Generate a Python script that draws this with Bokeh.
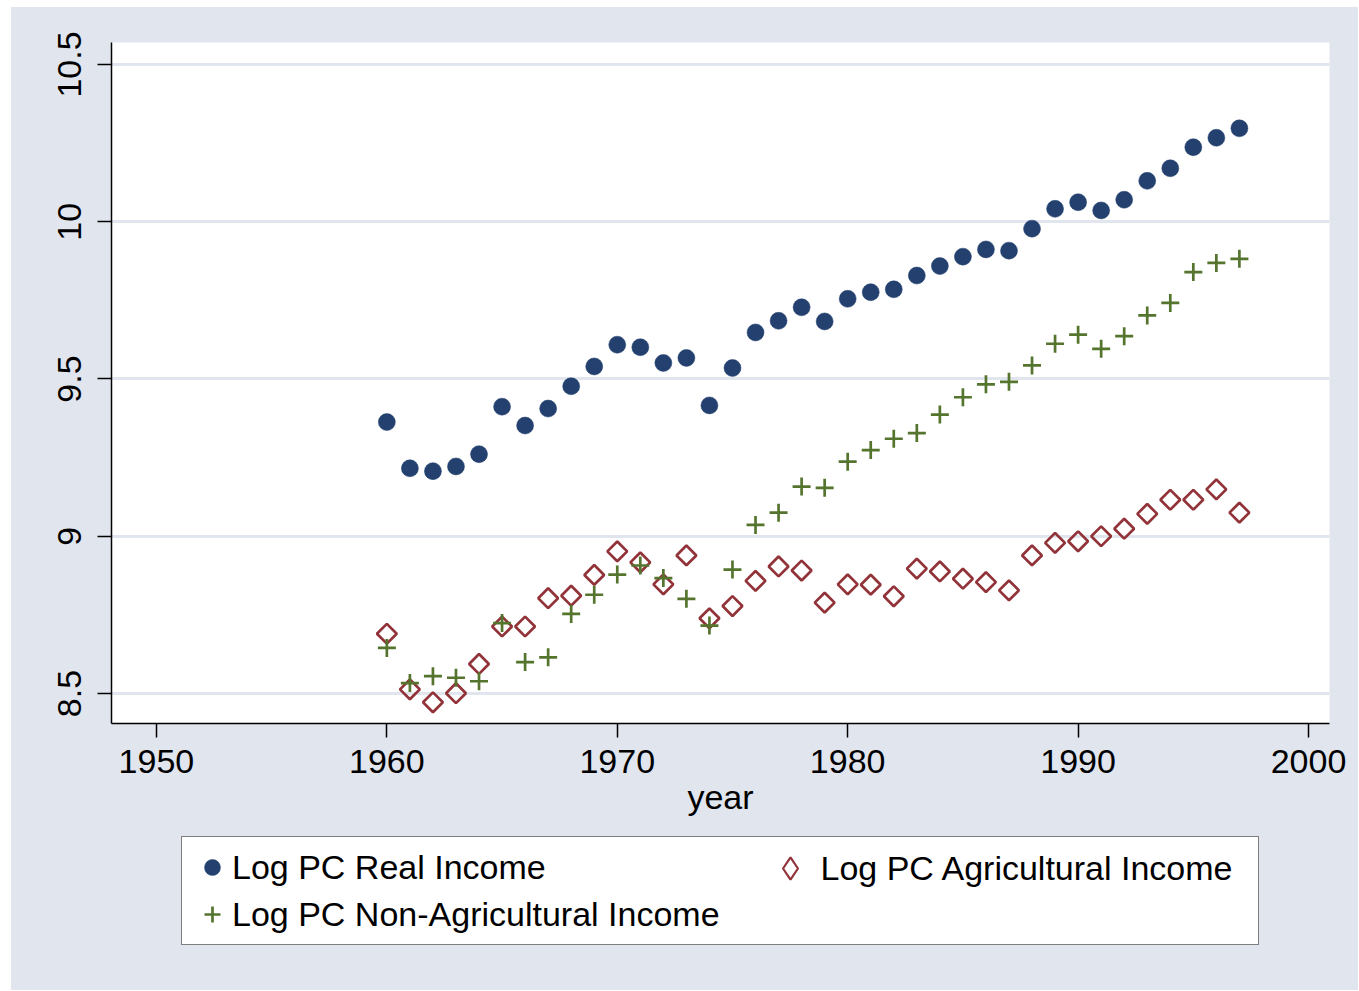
import math
from bokeh.plotting import figure
from bokeh.layouts import column
from bokeh.models import ColumnDataSource, Legend, LegendItem, Range1d, FixedTicker
from bokeh.embed import file_html
from bokeh.resources import INLINE

# ---------------- data ----------------
years = list(range(1960, 1998))
log_real = [9.363, 9.216, 9.207, 9.222, 9.261, 9.412, 9.352, 9.406, 9.477, 9.540,
            9.609, 9.601, 9.551, 9.567, 9.416, 9.535, 9.648, 9.685, 9.728, 9.683,
            9.755, 9.776, 9.785, 9.829, 9.859, 9.889, 9.912, 9.908, 9.978, 10.041,
            10.062, 10.036, 10.070, 10.130, 10.170, 10.237, 10.267, 10.297]
log_ag = [8.690, 8.513, 8.472, 8.501, 8.594, 8.713, 8.713, 8.803, 8.811, 8.877,
          8.952, 8.917, 8.847, 8.939, 8.739, 8.778, 8.858, 8.904, 8.891, 8.789,
          8.847, 8.846, 8.809, 8.897, 8.888, 8.865, 8.854, 8.828, 8.939, 8.979,
          8.984, 9.000, 9.024, 9.071, 9.116, 9.116, 9.149, 9.075]
log_nonag = [8.645, 8.533, 8.555, 8.550, 8.539, 8.724, 8.600, 8.615, 8.753, 8.814,
             8.878, 8.907, 8.867, 8.801, 8.716, 8.894, 9.036, 9.075, 9.158, 9.154,
             9.237, 9.274, 9.310, 9.328, 9.387, 9.442, 9.483, 9.491, 9.543, 9.612,
             9.641, 9.596, 9.636, 9.702, 9.742, 9.840, 9.869, 9.882]
x_ticks = [1950, 1960, 1970, 1980, 1990, 2000]
y_ticks = [8.5, 9, 9.5, 10, 10.5]
y_tick_labels = ["8.5", "9", "9.5", "10", "10.5"]
series_names = ["Log PC Real Income", "Log PC Agricultural Income",
                "Log PC Non-Agricultural Income"]
x_title = "year"

# ---------------- style ----------------
NAVY = "#23406F"
CRANBERRY = "#913339"
GREEN = "#55752F"
BG = "#E0E5EE"
FONT = "Liberation Sans"
FS = "34px"

real_style = dict(marker="circle", size=17, fill_color=NAVY, line_color=NAVY, line_width=0.5)
ag_style = dict(marker="square", angle=math.pi / 4, size=14, fill_color=None,
                line_color=CRANBERRY, line_width=2.7)
nonag_style = dict(marker="cross", size=18, line_color=GREEN, line_width=2.7)
# legend keys reset marker angles, so the diamond key uses Bokeh's diamond marker
ag_key_style = dict(marker="diamond", size=14, fill_color=None,
                    line_color=CRANBERRY, line_width=2.2)

src = ColumnDataSource(dict(year=years, real=log_real, ag=log_ag, nonag=log_nonag))

# ---------------- main plot ----------------
p = figure(width=1347, height=818, output_backend="svg", toolbar_location=None,
           x_range=Range1d(1948.05, 2000.91), y_range=Range1d(8.4046, 10.5699),
           min_border_left=100, min_border_right=29, min_border_top=35,
           min_border_bottom=102)
p.background_fill_color = "white"
p.border_fill_color = None
p.outline_line_color = None

r_real = p.scatter("year", "real", source=src, **real_style)
r_ag = p.scatter("year", "ag", source=src, **ag_style)
r_nonag = p.scatter("year", "nonag", source=src, **nonag_style)

p.xaxis.ticker = FixedTicker(ticks=x_ticks)
p.yaxis.ticker = FixedTicker(ticks=y_ticks)
p.yaxis.major_label_overrides = {t: s for t, s in zip(y_ticks, y_tick_labels)}
for ax in (p.xaxis[0], p.yaxis[0]):
    ax.axis_line_color = "black"
    ax.axis_line_width = 1.5
    ax.major_tick_line_color = "black"
    ax.major_tick_line_width = 1.5
    ax.major_tick_out = 14
    ax.major_tick_in = 0
    ax.minor_tick_line_color = None
    ax.major_label_text_font = FONT
    ax.major_label_text_font_size = FS
    ax.major_label_text_color = "black"
p.yaxis.major_label_orientation = "vertical"
p.yaxis.major_label_standoff = 16
p.xaxis.major_label_standoff = 12
p.xaxis.axis_label = x_title
p.xaxis.axis_label_text_font = FONT
p.xaxis.axis_label_text_font_size = FS
p.xaxis.axis_label_text_font_style = "normal"
p.xaxis.axis_label_text_color = "black"
p.xaxis.axis_label_standoff = 2

p.xgrid.grid_line_color = None
p.ygrid.grid_line_color = BG
p.ygrid.grid_line_width = 3

# ---------------- legend strip (frame aligned with the main plot) ----------------
q = figure(width=1347, height=165, output_backend="svg", toolbar_location=None,
           x_range=Range1d(0, 1), y_range=Range1d(0, 1),
           x_axis_location=None, y_axis_location=None,
           min_border_left=0, min_border_right=0, min_border_top=0, min_border_bottom=0)
q.background_fill_color = None
q.border_fill_color = None
q.outline_line_color = None
q.grid.visible = False

# legend proxies: one undefined (NaN) point each, so nothing is drawn in the strip
proxy = ColumnDataSource(dict(x=[float("nan")], y=[float("nan")]))
k_real = q.scatter("x", "y", source=proxy, **real_style)
k_ag = q.scatter("x", "y", source=proxy, **ag_key_style)
k_nonag = q.scatter("x", "y", source=proxy, **nonag_style)

leg_a = Legend(items=[LegendItem(label=series_names[0], renderers=[k_real]),
                      LegendItem(label=series_names[2], renderers=[k_nonag])],
               location=(70, 45), orientation="vertical", padding=10, spacing=7,
               glyph_width=40, glyph_height=40, label_standoff=0, label_width=1016,
               label_text_font=FONT, label_text_font_size=FS, label_text_color="black",
               border_line_color="black", border_line_width=1.5,
               background_fill_color="white", background_fill_alpha=1.0)
leg_b = Legend(items=[LegendItem(label=series_names[1], renderers=[k_ag])],
               location=(640.5, 84), orientation="vertical", padding=10, spacing=0,
               glyph_width=56, glyph_height=56, label_standoff=3,
               label_text_font=FONT, label_text_font_size=FS, label_text_color="black",
               border_line_alpha=0, background_fill_alpha=0)
q.add_layout(leg_a)
q.add_layout(leg_b)

layout = column(p, q, spacing=0)
layout.margin = (7, 0, 0, 11)
layout.styles = {"background-color": BG}

open("out.html", "w").write(file_html(layout, INLINE))
